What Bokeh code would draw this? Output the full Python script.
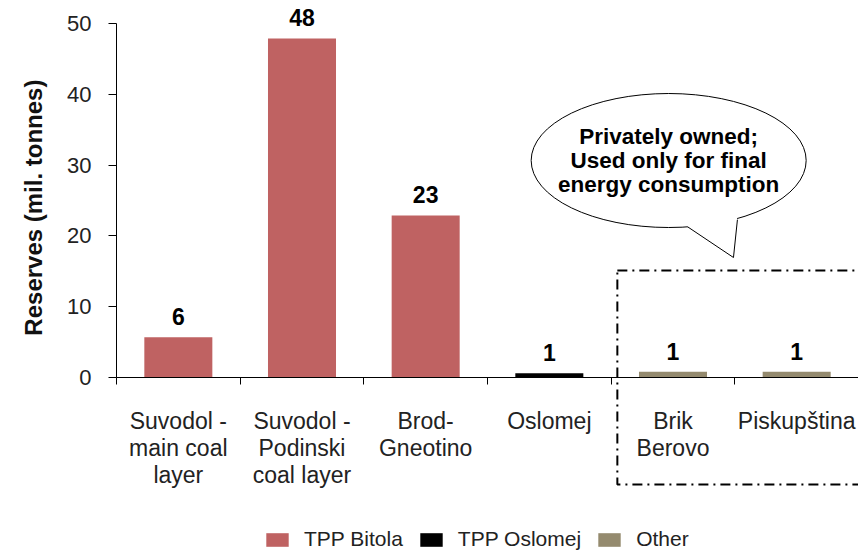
import math
from bokeh.plotting import figure
from bokeh.models import (ColumnDataSource, Range1d, FixedTicker, Legend, LegendItem,
                          BoxAnnotation, LinearAxis)
from bokeh.core.properties import value
from bokeh.embed import file_html
from bokeh.resources import INLINE

# Coal deposits and their estimated reserves
categories = ["Suvodol -\nmain coal\nlayer", "Suvodol -\nPodinski\ncoal layer", "Brod-\nGneotino",
              "Oslomej", "Brik\nBerovo", "Piskupština"]
reserves = [5.7, 47.9, 22.9, 0.6, 0.8, 0.8]
owners = ["TPP Bitola", "TPP Bitola", "TPP Bitola", "TPP Oslomej", "Other", "Other"]
owner_names = ["TPP Bitola", "TPP Oslomej", "Other"]
owner_colors = ["#BF6262", "#000000", "#948A6E"]
y_ticks = [0, 10, 20, 30, 40, 50]
y_title = "Reserves (mil. tonnes)"

FONT = "Liberation Sans"

pos = [i + 0.5 for i in range(len(categories))]
color_map = dict(zip(owner_names, owner_colors))
src = ColumnDataSource(dict(
    x=pos, top=reserves, owner=owners,
    color=[color_map[o] for o in owners],
    label=[f"{v:.0f}" for v in reserves],
))

# The frame covers the whole canvas; both axes are pinned at zero so that the
# labels, the dash-dot frame and the legend can sit around the bars freely.
p = figure(width=858, height=557, output_backend="svg", toolbar_location=None,
           x_range=Range1d(-0.938, len(categories)), y_range=Range1d(-25.42, 53.25),
           x_axis_location=None, y_axis_location=None,
           min_border_left=0, min_border_right=0, min_border_top=0, min_border_bottom=0)
p.outline_line_color = None
p.grid.visible = False
p.background_fill_color = "white"
p.border_fill_color = "white"

# x axis: labels centred on each deposit, tick marks between deposits
xaxis = LinearAxis(ticker=FixedTicker(ticks=pos, minor_ticks=list(range(len(categories) + 1))),
                   fixed_location=0, bounds=(0, len(categories)))
xaxis.major_label_overrides = {p_: c for p_, c in zip(pos, categories)}
xaxis.major_tick_line_color = None
xaxis.major_tick_in = 0
xaxis.major_tick_out = 7
xaxis.minor_tick_in = 0
xaxis.minor_tick_out = 7
xaxis.minor_tick_line_color = "black"
xaxis.axis_line_color = "black"
xaxis.major_label_text_font = FONT
xaxis.major_label_text_font_size = "23px"
xaxis.major_label_text_color = "#222222"
xaxis.major_label_text_line_height = 1.05
xaxis.major_label_standoff = 23
p.add_layout(xaxis, "below")

yaxis = LinearAxis(ticker=FixedTicker(ticks=y_ticks, minor_ticks=[]),
                   fixed_location=0, bounds=(0, 50))
yaxis.major_tick_in = 0
yaxis.major_tick_out = 8
yaxis.major_label_text_font = FONT
yaxis.major_label_text_font_size = "22px"
yaxis.major_label_text_color = "#222222"
yaxis.major_label_standoff = 17
p.add_layout(yaxis, "left")

# y axis title, centred on the 0-50 span
p.text(x=[-0.668], y=[24.0], text=[y_title], angle=math.pi / 2,
       text_align="center", text_baseline="middle",
       text_font=value(FONT), text_font_size="24px", text_font_style="bold",
       text_color="#111111")

bars = p.vbar(x="x", top="top", width=0.55, bottom=0, source=src,
              fill_color="color", line_color=None)

p.text(x="x", y="top", text="label", source=src, y_offset=-12,
       text_align="center", text_baseline="bottom",
       text_font=value(FONT), text_font_size="23px", text_font_style="bold",
       text_color="black")

# Dash-dot frame around the privately owned deposits
box = BoxAnnotation(left=4.05, right=6.4, top=15.1, bottom=-15.1,
                    fill_color=None, fill_alpha=0, line_color="black", line_alpha=1,
                    line_width=2, line_dash="10 5 2 5")
p.add_layout(box)

# Speech bubble
p.ellipse(x=[4.465], y=[30.65], width=275, height=134,
          width_units="screen", height_units="screen",
          fill_color="white", line_color="black", line_width=1)
p.patch(x=[4.617, 4.989, 5.021, 5.0, 4.62], y=[21.3, 16.95, 22.3, 23.8, 22.8],
        fill_color="white", line_color=None)
p.multi_line(xs=[[4.617, 4.989, 5.021]], ys=[[21.3, 16.95, 22.3]],
             line_color="black", line_width=1)
p.text(x=[4.465], y=[30.65], text=["Privately owned;\nUsed only for final\nenergy consumption"],
       text_align="center", text_baseline="middle", text_line_height=0.97,
       text_font=value(FONT), text_font_size="22.5px", text_font_style="bold",
       text_color="black")

# Legend, one entry per owner
items = []
for name, col in zip(owner_names, owner_colors):
    r = p.vbar(x=[0], top=[0], width=0, fill_color=col, line_color=None)
    items.append(LegendItem(label=name, renderers=[r]))
legend = Legend(items=items, orientation="horizontal", location=(263, 6),
                glyph_width=28, glyph_height=17, label_text_font=FONT,
                label_text_font_size="21px", label_text_color="#222222",
                label_standoff=13, spacing=14, padding=4, margin=0,
                border_line_color=None, background_fill_alpha=0)
p.add_layout(legend)

open("out.html", "w").write(file_html(p, INLINE))
